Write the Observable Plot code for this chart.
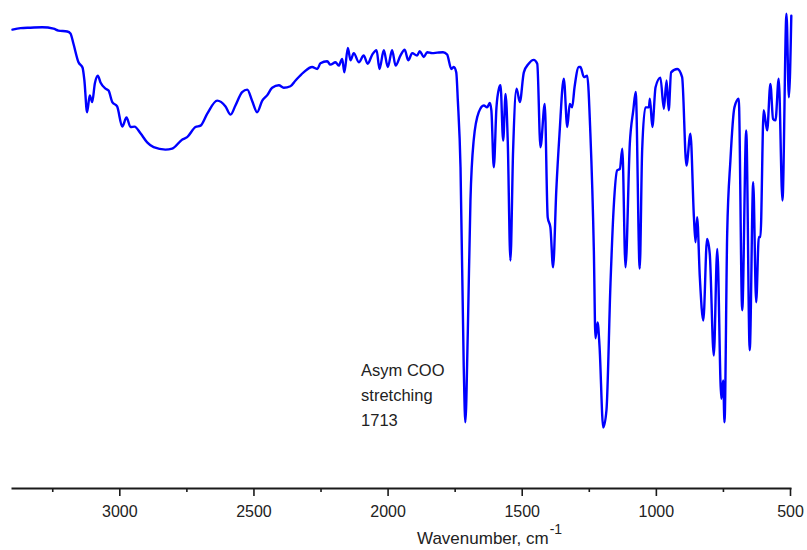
<!DOCTYPE html>
<html><head><meta charset="utf-8">
<script src="https://cdn.jsdelivr.net/npm/d3@7"></script>
<script src="https://cdn.jsdelivr.net/npm/@observablehq/plot@0.6"></script>
<style>
html,body{margin:0;padding:0;background:#fff;}
#wrap{position:relative;width:807px;height:550px;font-family:"Liberation Sans",Arial,sans-serif;}
#xlabel{position:absolute;left:417px;top:529px;font-size:17px;color:#222;line-height:20px;white-space:nowrap;}
#xlabel .sup{font-size:14px;position:relative;top:-10px;margin-left:1px;}
</style></head><body>
<div id="wrap"><div id="chart"></div><div id="xlabel">Wavenumber, cm<span class="sup">-1</span></div></div>
<script>
const wavenumber = [3400,3370,3333,3289,3247,3229,3196,3184,3173,3154,3139,3132,3122,3112,3103,3093,3082,3072,3053,3042,3028,3010,2991,2975,2960,2945,2923,2898,2874,2830,2805,2767,2749,2718,2699,2674,2637,2606,2587,2569,2544,2525,2507,2488,2469,2451,2432,2407,2389,2364,2345,2315,2283,2264,2252,2227,2215,2196,2184,2171,2163,2150,2140,2128,2109,2091,2076,2059,2043,2032,2016,2001,1985,1972,1954,1938,1925,1910,1892,1882,1867,1854,1836,1817,1795,1780,1764,1755,1746,1740,1730,1718,1712,1703,1693,1681,1662,1643,1631,1621,1615,1606,1596,1587,1581,1571,1562,1554,1544,1534,1521,1509,1494,1476,1457,1444,1432,1416,1405,1395,1385,1373,1361,1345,1332,1323,1314,1305,1289,1283,1270,1258,1246,1233,1227,1219,1212,1198,1186,1171,1159,1146,1136,1127,1115,1099,1086,1077,1062,1053,1041,1028,1024,1015,1003,985,972,962,954,945,922,904,888,873,860,854,848,838,825,811,801,786,773,758,751,746,736,724,709,693,680,665,652,639,628,618,612,600,587,575,565,556,544,530,515,506,497];
const transmittance = [95.6,95.9,96.0,96.1,95.8,95.4,95.2,94.8,92.7,88.8,87.7,85.0,78.4,81.9,80.5,84.4,86.0,84.6,83.3,82.9,80.5,79.6,75.4,77.3,75.3,75.4,74.0,72.1,71.1,70.6,70.8,72.7,73.2,75.3,75.6,78.1,80.8,79.6,77.9,79.8,82.6,83.1,80.8,78.4,80.8,81.9,83.5,84.0,83.5,83.8,85.0,86.7,87.8,87.4,88.6,89.0,88.3,88.8,88.1,89.5,86.7,91.8,89.2,90.7,88.8,90.2,88.5,90.4,91.3,87.4,91.3,87.8,91.3,88.1,90.2,91.4,89.2,90.7,90.2,91.1,89.9,90.9,90.7,90.8,90.9,90.4,87.4,87.8,86.7,80.8,66.9,25.3,13.8,32.2,60.0,72.5,78.4,79.8,79.4,80.3,78.8,66.9,79.4,83.3,84.0,72.5,82.2,72.5,47.5,70.4,83.3,80.5,86.7,88.5,89.3,88.5,71.1,80.1,56.5,54.4,46.1,62.1,73.9,85.4,75.3,80.1,79.4,83.6,87.8,87.8,85.7,86.0,74.0,49.6,31.3,34.6,29.8,12.7,16.3,42.7,58.6,66.3,66.6,70.8,46.1,71.8,78.8,82.6,45.8,70.4,79.4,79.4,81.2,75.3,83.6,85.6,79.1,85.0,78.8,86.7,87.4,85.7,67.3,73.9,56.5,51.3,56.5,44.0,35.0,52.0,48.9,27.7,49.9,18.7,22.5,13.8,53.1,68.3,79.4,81.2,37.1,74.6,28.8,63.8,38.8,52.4,52.4,78.8,74.6,84.3,77.0,76.7,85.4,60.0,98.9,81.5,98.5];
const majorTicks = [3000, 2500, 2000, 1500, 1000, 500];
const minorTicks = [3250, 2750, 2250, 1750, 1250, 750];
const annotationText = ["Asym COO\nstretching\n1713"];
const annotationWn = [1713];
const annotationT = [27];

const spectrum = wavenumber.map((w, i) => ({w, t: transmittance[i]}));
const notes = annotationText.map((text, i) => ({text, w: annotationWn[i], t: annotationT[i]}));

const chart = Plot.plot({
  width: 807,
  height: 522,
  marginTop: 8,
  marginBottom: 34,
  marginLeft: 12,
  marginRight: 17,
  style: {fontFamily: '"Liberation Sans", Arial, sans-serif', background: "#fff"},
  x: {domain: [3400, 500], axis: null},
  y: {domain: [0, 100], axis: null},
  marks: [
    Plot.frame({anchor: "bottom", stroke: "#1a1a1a", strokeWidth: 2}),
    Plot.axisX({ticks: majorTicks, tickSize: 8, tickPadding: 9, tickFormat: d => String(d), fontSize: 16, stroke: "#1a1a1a", strokeWidth: 1.6, fill: "#222", label: null}),
    Plot.axisX({ticks: minorTicks, tickSize: 4, text: null, stroke: "#1a1a1a", strokeWidth: 1.6, label: null}),
    Plot.line(spectrum, {x: "w", y: "t", stroke: "#0000ff", strokeWidth: 2.4, curve: "monotone-x"}),
    Plot.text(notes, {x: "w", y: "t", text: "text", dx: -104, textAnchor: "start", lineAnchor: "top", lineHeight: 1.5, fontSize: 16.5, fill: "#222"})
  ]
});
document.getElementById("chart").appendChild(chart);
</script>
</body></html>
